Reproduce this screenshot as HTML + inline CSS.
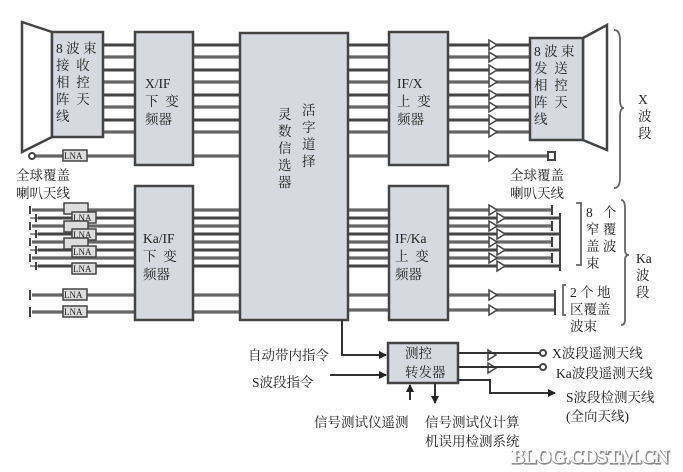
<!DOCTYPE html>
<html><head><meta charset="utf-8"><style>
html,body{margin:0;padding:0;background:#fff}
svg{display:block}
text{font-family:"Liberation Serif","Noto Serif CJK SC",serif;fill:#222}
</style></head><body>
<svg width="683" height="472" viewBox="0 0 683 472" xmlns="http://www.w3.org/2000/svg">
<defs>
<marker id="ar" markerWidth="8" markerHeight="8" refX="7" refY="4" orient="auto" markerUnits="userSpaceOnUse"><path d="M0,0 L8,4 L0,8 z" fill="#222"/></marker>
</defs>
<g stroke="#444" fill="none">
<g stroke-width="3.2" stroke="#666">
<line x1="103" y1="45" x2="240" y2="45"/><line x1="103" y1="57" x2="240" y2="57"/>
<line x1="103" y1="70" x2="240" y2="70"/><line x1="103" y1="82" x2="240" y2="82"/>
<line x1="103" y1="95" x2="240" y2="95"/><line x1="103" y1="107" x2="240" y2="107"/>
<line x1="103" y1="120" x2="240" y2="120"/><line x1="103" y1="132" x2="240" y2="132"/>
<line x1="30" y1="156" x2="240" y2="156"/>
<line x1="348" y1="45" x2="530" y2="45"/><line x1="348" y1="57" x2="530" y2="57"/>
<line x1="348" y1="70" x2="530" y2="70"/><line x1="348" y1="82" x2="530" y2="82"/>
<line x1="348" y1="95" x2="530" y2="95"/><line x1="348" y1="107" x2="530" y2="107"/>
<line x1="348" y1="120" x2="530" y2="120"/><line x1="348" y1="132" x2="530" y2="132"/>
<line x1="348" y1="156" x2="548" y2="156"/>
<line x1="32" y1="210" x2="240" y2="210"/><line x1="38" y1="218" x2="240" y2="218"/>
<line x1="32" y1="226" x2="240" y2="226"/><line x1="38" y1="234" x2="240" y2="234"/>
<line x1="32" y1="242" x2="240" y2="242"/><line x1="38" y1="250" x2="240" y2="250"/>
<line x1="32" y1="258" x2="240" y2="258"/><line x1="38" y1="266" x2="240" y2="266"/>
<line x1="32" y1="295" x2="240" y2="295"/><line x1="32" y1="312" x2="240" y2="312"/>
<line x1="348" y1="210" x2="552" y2="210"/><line x1="348" y1="218" x2="560" y2="218"/>
<line x1="348" y1="226" x2="552" y2="226"/><line x1="348" y1="234" x2="560" y2="234"/>
<line x1="348" y1="242" x2="552" y2="242"/><line x1="348" y1="250" x2="560" y2="250"/>
<line x1="348" y1="258" x2="552" y2="258"/><line x1="348" y1="266" x2="560" y2="266"/>
<line x1="348" y1="295" x2="555" y2="295"/><line x1="348" y1="310" x2="555" y2="310"/>
</g>
<g stroke-width="1" stroke="#222">
<line x1="103" y1="45" x2="530" y2="45"/><line x1="103" y1="70" x2="530" y2="70"/>
<line x1="103" y1="95" x2="530" y2="95"/><line x1="103" y1="120" x2="530" y2="120"/>
<line x1="30" y1="218" x2="560" y2="218"/><line x1="30" y1="234" x2="560" y2="234"/>
<line x1="30" y1="250" x2="560" y2="250"/><line x1="30" y1="266" x2="560" y2="266"/>
</g>
<g stroke-width="2">
<path d="M30,206 v8 M36,214 v8 M30,222 v8 M36,230 v8 M30,238 v8 M36,246 v8 M30,254 v8 M36,262 v8 M30,290 v10 M30,307 v10"/>
<path d="M552,205 v10 M560,213 v58 M552,221 v10 M552,237 v10 M552,253 v10 M555,290 v25"/>
</g>
<path d="M22,22 L52,32 L52,137 L22,152 Z" stroke-width="2.5" fill="#fff"/>
<path d="M607,25 L583,38 L583,140 L607,150 Z" stroke-width="2.5" fill="#fff"/>
<circle cx="32" cy="156" r="3" stroke-width="2" fill="#fff"/>
<rect x="548" y="152" width="7" height="8" stroke-width="2" fill="#fff"/>
<g fill="#d6dae0" stroke="#444" stroke-width="2.5">
<rect x="52" y="32" width="51" height="105"/>
<rect x="135" y="32" width="58" height="133"/>
<rect x="135" y="186" width="58" height="134"/>
<rect x="240" y="33" width="108" height="287"/>
<rect x="389" y="32" width="59" height="133"/>
<rect x="389" y="186" width="59" height="134"/>
<rect x="530" y="38" width="53" height="102"/>
<rect x="388" y="343" width="70" height="40"/>
</g>
<g fill="#ddd" stroke="#444" stroke-width="1.5">
<rect x="63" y="150" width="24" height="11"/>
<rect x="64" y="203" width="24" height="11"/><rect x="72" y="212" width="24" height="11"/>
<rect x="64" y="221" width="24" height="11"/><rect x="72" y="229" width="24" height="11"/>
<rect x="64" y="238" width="24" height="11"/><rect x="72" y="246" width="24" height="11"/>
<rect x="72" y="263" width="24" height="11"/>
<rect x="63" y="289" width="24" height="11"/><rect x="63" y="306" width="24" height="11"/>
</g>
<g fill="#fff" stroke="#444" stroke-width="1.5">
<path d="M489,40 l8,5 l-8,5z M489,52 l8,5 l-8,5z M489,65 l8,5 l-8,5z M489,77 l8,5 l-8,5z M489,90 l8,5 l-8,5z M489,102 l8,5 l-8,5z M489,115 l8,5 l-8,5z M489,127 l8,5 l-8,5z M489,151 l8,5 l-8,5z"/>
<path d="M489,205 l8,5 l-8,5z M497,213 l8,5 l-8,5z M489,221 l8,5 l-8,5z M497,229 l8,5 l-8,5z M489,237 l8,5 l-8,5z M497,245 l8,5 l-8,5z M489,253 l8,5 l-8,5z M497,261 l8,5 l-8,5z M489,290 l8,5 l-8,5z M489,305 l8,5 l-8,5z"/>
<path d="M488,350 l8,5 l-8,5z M488,363 l8,5 l-8,5z"/>
</g>
<g stroke="#333" stroke-width="2">
<path d="M342,320 V355 H386" marker-end="url(#ar)"/>
<path d="M330,375 H386" marker-end="url(#ar)"/>
<path d="M458,353 H540 M458,367 H540"/>
<path d="M458,380 H490 V393 H555" marker-end="url(#ar)"/>
<path d="M410,400 V385" marker-end="url(#ar)"/>
<path d="M435,383 V403" marker-end="url(#ar)"/>
</g>
<circle cx="543" cy="353" r="3" stroke-width="2" fill="#fff"/>
<circle cx="543" cy="367" r="3" stroke-width="2" fill="#fff"/>
<g stroke="#666" stroke-width="1.8">
<path d="M614,30 Q620,30 620,40 V100 Q620,108 624,108 Q620,108 620,116 V178 Q620,188 614,188"/>
<path d="M576,203 h5 v62 h-5"/>
<path d="M621,200 Q625,200 625,208 V250 Q625,255 629,255 Q625,255 625,260 V320 Q625,325 621,325"/>
<path d="M566,285 h-3 v30 h3"/>
</g>
</g>
<g font-size="13.5">
<text x="56" y="53">8 波 束</text>
<text x="56" y="70">接 &#160;收</text>
<text x="56" y="87">相 &#160;控</text>
<text x="56" y="104">阵 &#160;天</text>
<text x="56" y="121">线</text>
<text x="145" y="88">X/IF</text>
<text x="145" y="106">下 &#160;变</text>
<text x="145" y="124">频器</text>
<text x="143" y="243">Ka/IF</text>
<text x="143" y="261">下 &#160;变</text>
<text x="143" y="279">频器</text>
<text x="397" y="88">IF/X</text>
<text x="397" y="106">上 &#160;变</text>
<text x="397" y="124">频器</text>
<text x="395" y="243">IF/Ka</text>
<text x="395" y="261">上 &#160;变</text>
<text x="395" y="279">频器</text>
<text x="534" y="56">8 波 束</text>
<text x="534" y="73">发 &#160;送</text>
<text x="534" y="90">相 &#160;控</text>
<text x="534" y="107">阵 &#160;天</text>
<text x="534" y="124">线</text>
<text x="278" y="119">灵</text><text x="278" y="136">数</text><text x="278" y="153">信</text><text x="278" y="170">选</text><text x="278" y="187">器</text>
<text x="302" y="115">活</text><text x="302" y="132">字</text><text x="302" y="149">道</text><text x="302" y="166">择</text>
<text x="16" y="180">全球覆盖</text>
<text x="16" y="198">喇叭天线</text>
<text x="510" y="180">全球覆盖</text>
<text x="510" y="198">喇叭天线</text>
<text x="586" y="217">8 &#160;&#160;个</text>
<text x="586" y="234">窄 覆</text>
<text x="586" y="251">盖 波</text>
<text x="586" y="268">束</text>
<text x="570" y="297">2 个 地</text>
<text x="570" y="314">区覆盖</text>
<text x="570" y="331">波束</text>
<text x="638" y="104">X</text>
<text x="638" y="121">波</text>
<text x="638" y="138">段</text>
<text x="636" y="263">Ka</text>
<text x="636" y="280">波</text>
<text x="636" y="297">段</text>
<text x="405" y="358">测控</text>
<text x="405" y="377">转发器</text>
<text x="248" y="360">自动带内指令</text>
<text x="252" y="387">S波段指令</text>
<text x="552" y="358">X波段遥测天线</text>
<text x="556" y="378">Ka波段遥测天线</text>
<text x="566" y="402">S波段检测天线</text>
<text x="566" y="421">(全向天线)</text>
<text x="314" y="427">信号测试仪遥测</text>
<text x="425" y="427">信号测试仪计算</text>
<text x="425" y="446">机误用检测系统</text>
</g>
<g font-size="9" font-family="Liberation Serif,serif">
<text x="64" y="159">LNA</text>
<text x="73" y="221">LNA</text><text x="73" y="238">LNA</text><text x="73" y="255">LNA</text><text x="73" y="272">LNA</text>
<text x="64" y="298">LNA</text><text x="64" y="315">LNA</text>
</g>
<text x="512" y="464" font-family="Liberation Sans,sans-serif" font-weight="bold" font-size="20" stroke="#888" stroke-width="1.2" style="fill:#ddd" textLength="158">BLOG.CDSTM.CN</text>
<text x="511" y="463" font-family="Liberation Sans,sans-serif" font-weight="bold" font-size="20" style="fill:#fff" textLength="158">BLOG.CDSTM.CN</text>
</svg>
</body></html>
